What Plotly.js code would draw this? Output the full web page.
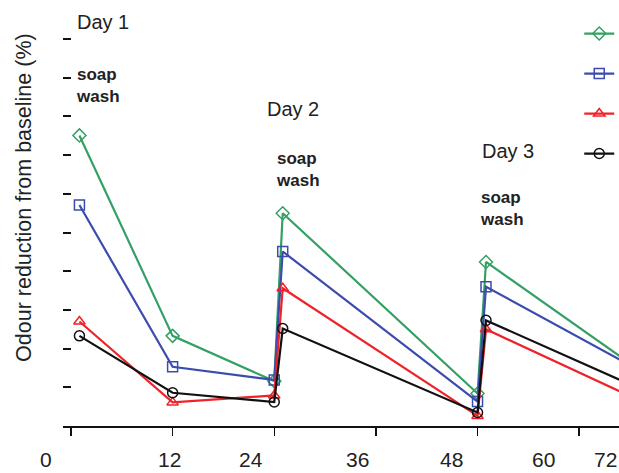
<!DOCTYPE html>
<html>
<head>
<meta charset="utf-8">
<script src="https://cdn.plot.ly/plotly-3.0.1.min.js"></script>
<style>html,body{margin:0;padding:0;background:#fff}#chart{width:619px;height:473px}</style>
</head>
<body>
<div id="chart"></div>
<script>
// Hours after start
var hours = [1, 12, 24, 25, 48, 49, 72];
// Odour reduction from baseline (%) per series
var seriesA = [75.1, 23.3, 11.6, 55.0, 8.4, 42.4, 6.9];
var seriesB = [57.1, 15.3, 11.9, 45.1, 6.3, 36.0, 8.5];
var seriesC = [27.0, 6.1, 7.9, 35.6, 2.6, 25.0, 1.6];
var seriesD = [23.3, 8.6, 6.2, 25.2, 3.5, 27.3, 4.9];
// Axis tick marks and labels
var xTickVals = [0, 12, 24, 36, 48, 60];
var xTickLabels = ["0", "12", "24", "36", "48", "60", "72"];
var yTickVals = [10, 20, 30, 40, 50, 60, 70, 80, 90, 100];
// Label placement (fraction of plot width) as drawn in the source figure
var xLabelPos = [-0.0306, 0.1915, 0.338, 0.529, 0.698, 0.865, 0.975];

var colors = ['#34a065', '#3b4cad', '#ee2229', '#111111'];
var symbols = ['diamond-open', 'square-open', 'triangle-up-open', 'circle-open'];
var all = [seriesA, seriesB, seriesC, seriesD];

var traces = all.map(function (s, i) {
  return {
    x: hours, y: s, type: 'scatter', mode: 'lines+markers',
    name: ' ', legendgroup: 'g' + i,
    line: {color: colors[i], width: 2.2},
    marker: {symbol: symbols[i], size: 10, color: colors[i], line: {color: colors[i], width: 1.5}}
  };
});

var annotations = [];
xTickLabels.forEach(function (t, i) {
  annotations.push({x: xLabelPos[i], y: -0.114, xref: 'paper', yref: 'paper', text: t, showarrow: false,
    xanchor: 'center', yanchor: 'bottom', font: {family: 'Liberation Sans, Arial, sans-serif', size: 21, color: '#222'}});
});
var textFont = {family: 'Liberation Sans, Arial, sans-serif', size: 20, color: '#222'};
var boldFont = {family: 'Liberation Sans, Arial, sans-serif', size: 17, color: '#222'};
annotations.push({x: 0.45, y: 104.5, xref: 'x', yref: 'y', text: 'Day 1', showarrow: false, xanchor: 'left', yanchor: 'middle', font: textFont});
annotations.push({x: 22.9, y: 82, xref: 'x', yref: 'y', text: 'Day 2', showarrow: false, xanchor: 'left', yanchor: 'middle', font: textFont});
annotations.push({x: 48.3, y: 71.2, xref: 'x', yref: 'y', text: 'Day 3', showarrow: false, xanchor: 'left', yanchor: 'middle', font: textFont});
annotations.push({x: 0.4, y: 88, xref: 'x', yref: 'y', text: '<b>soap<br>wash</b>', showarrow: false, xanchor: 'left', yanchor: 'middle', align: 'left', font: boldFont});
annotations.push({x: 24.0, y: 66.3, xref: 'x', yref: 'y', text: '<b>soap<br>wash</b>', showarrow: false, xanchor: 'left', yanchor: 'middle', align: 'left', font: boldFont});
annotations.push({x: 48.0, y: 56.2, xref: 'x', yref: 'y', text: '<b>soap<br>wash</b>', showarrow: false, xanchor: 'left', yanchor: 'middle', align: 'left', font: boldFont});
annotations.push({x: -0.07, y: 0.551, xref: 'paper', yref: 'paper', text: 'Odour reduction from baseline (%)', textangle: -90,
  showarrow: false, xanchor: 'center', yanchor: 'middle', font: {family: 'Liberation Sans, Arial, sans-serif', size: 21.5, color: '#222'}});

var layout = {
  width: 619, height: 473,
  margin: {l: 63, r: 0, t: 12, b: 47, pad: 0, autoexpand: false},
  paper_bgcolor: '#fff', plot_bgcolor: '#fff',
  showlegend: true,
  legend: {x: 0.9285, y: 0.983, xanchor: 'left', yanchor: 'top', traceorder: 'grouped', tracegroupgap: 21,
    bgcolor: 'rgba(0,0,0,0)', font: {size: 12}},
  xaxis: {range: [-0.94, 64.7], tickvals: xTickVals, showticklabels: false, ticks: 'outside', ticklen: 8, tickwidth: 1.5,
    tickcolor: '#111', showline: true, linecolor: '#111', linewidth: 1.5, showgrid: false, zeroline: false, fixedrange: true},
  yaxis: {range: [0, 107], tickvals: yTickVals, showticklabels: false, ticks: 'inside', ticklen: 8, tickwidth: 2,
    tickcolor: '#111', showline: false, showgrid: false, zeroline: false, fixedrange: true},
  annotations: annotations
};

Plotly.newPlot('chart', traces, layout, {staticPlot: true, displayModeBar: false});
</script>
</body>
</html>
